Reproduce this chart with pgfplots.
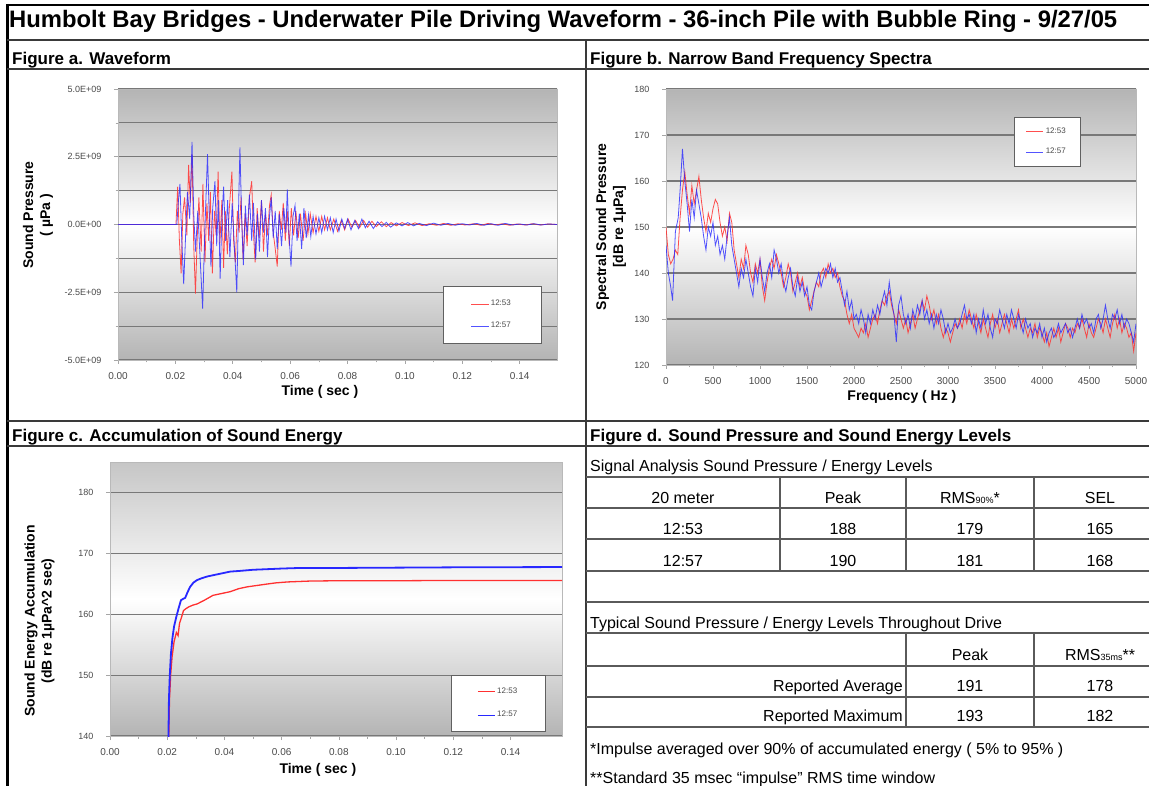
\documentclass[border=0pt]{standalone}
\usepackage{pgfplots}
\pgfplotsset{compat=1.18}
\usepackage{pgfplotstable}
\usepackage{graphicx}
\usepackage{fontspec}
\setmainfont{Liberation Sans}
\definecolor{gridc}{HTML}{787878}
\definecolor{redl}{HTML}{FF3030}
\definecolor{bluel}{HTML}{2828FF}
\definecolor{bgg}{HTML}{B4B4B4}
\definecolor{tickc}{HTML}{4A4A4A}
\definecolor{framec}{HTML}{3A3A3A}
\definecolor{tabc}{HTML}{5A5A5A}

\pgfplotstableread{
t p
0 0
0.0200 0
0.0205 0
0.0210 0.8
0.0216 1.5
0.0222 -0.5
0.0229 -2.2
0.0236 -0.3
0.0242 1.2
0.0250 0.2
0.0258 3.05
0.0264 0.4
0.0270 -1.0
0.0278 0.5
0.0286 -1.2
0.0295 -3.1
0.0302 -0.4
0.0312 2.6
0.0318 0.3
0.0324 -1.55
0.0330 0.6
0.0338 1.6
0.0344 -0.8
0.0350 0.9
0.0356 -2.0
0.0362 0.2
0.0368 1.4
0.0375 -0.6
0.0382 0.9
0.0390 -1.2
0.0398 0.8
0.0406 -0.9
0.0414 -2.5
0.0420 0.5
0.0425 2.85
0.0431 0.2
0.0437 -1.5
0.0444 0.7
0.0450 -0.4
0.0458 1.1
0.0466 -0.6
0.0472 0.8
0.0480 -1.3
0.0486 0.4
0.0493 -1.0
0.0500 0.9
0.0507 -0.3
0.0514 0.6
0.0521 -1.2
0.0528 0.3
0.0534 1.0
0.0541 -0.5
0.0548 0.5
0.0555 -0.9
0.0562 0.4
0.0570 -0.8
0.0578 0.6
0.0585 -0.3
0.0590 1.3
0.0596 -0.4
0.0603 -1.55
0.0610 0.3
0.0617 0.7
0.0624 -0.6
0.0632 0.4
0.0640 -0.9
0.0648 0.6
0.0656 -0.5
0.0664 0.35
0.0672 -0.45
0.0680 0.3
0.0690 -0.35
0.0700 0.25
0.0710 -0.3
0.0720 0.3
0.0730 -0.2
0.0740 0.25
0.0750 -0.3
0.0760 0.2
0.0770 -0.25
0.0780 0.2
0.0790 -0.15
0.0800 0.2
0.0812 -0.2
0.0825 0.15
0.0838 -0.15
0.0850 0.2
0.0862 -0.12
0.0875 0.12
0.0890 -0.15
0.0905 0.1
0.0920 -0.08
0.0935 0.08
0.0950 -0.1
0.0970 0.06
0.0990 -0.05
0.1010 0.07
0.1030 -0.05
0.1050 0.04
0.1075 -0.04
0.1100 0.05
0.1125 -0.03
0.1150 0.04
0.1175 -0.03
0.1200 0.03
0.1225 -0.02
0.1250 0.04
0.1275 -0.03
0.1300 0.03
0.1325 -0.03
0.1350 0.04
0.1375 -0.02
0.1400 0.02
0.1425 -0.02
0.1450 0.03
0.1475 -0.02
0.1500 0.02
0.1530 0
}\waveB

\pgfplotstableread{
t p
0 0
0.0202 0
0.0208 1.4
0.0214 -0.6
0.0220 -1.8
0.0226 0.4
0.0232 1.0
0.0240 -0.4
0.0246 2.2
0.0252 0.8
0.0258 2.6
0.0264 -0.8
0.0270 -2.55
0.0276 -0.5
0.0282 1.0
0.0290 -1.0
0.0296 1.5
0.0303 -1.4
0.0310 0.8
0.0316 -0.6
0.0322 1.2
0.0329 -1.8
0.0336 0.5
0.0342 -0.4
0.0349 1.95
0.0355 -0.7
0.0362 0.9
0.0368 -1.6
0.0374 0.5
0.0381 -1.1
0.0388 0.6
0.0397 1.95
0.0403 -0.6
0.0409 -1.4
0.0416 0.5
0.0422 -0.3
0.0429 1.0
0.0436 -1.3
0.0443 0.4
0.0450 -0.8
0.0458 1.0
0.0466 1.6
0.0472 -0.3
0.0478 -1.4
0.0485 0.6
0.0492 -0.5
0.0500 0.9
0.0507 -1.0
0.0514 0.4
0.0521 -0.4
0.0528 0.7
0.0534 1.1
0.0541 -0.3
0.0548 -0.9
0.0555 -1.55
0.0562 0.5
0.0569 -0.2
0.0576 0.8
0.0583 -0.6
0.0590 0.5
0.0597 -0.8
0.0604 0.6
0.0612 -0.4
0.0620 0.5
0.0628 -0.5
0.0636 0.4
0.0645 -0.6
0.0654 0.4
0.0662 -0.35
0.0670 0.4
0.0680 -0.3
0.0690 0.3
0.0700 -0.25
0.0710 0.3
0.0720 -0.2
0.0730 0.25
0.0740 -0.2
0.0752 0.2
0.0765 -0.25
0.0778 0.15
0.0790 -0.2
0.0802 0.2
0.0815 -0.1
0.0828 0.15
0.0842 -0.12
0.0856 0.15
0.0870 -0.1
0.0885 0.12
0.0900 -0.08
0.0918 0.1
0.0935 -0.08
0.0952 0.07
0.0970 -0.05
0.0990 0.07
0.1012 -0.04
0.1035 0.06
0.1060 -0.04
0.1085 0.03
0.1110 -0.03
0.1135 0.04
0.1160 -0.03
0.1185 0.03
0.1210 -0.02
0.1240 0.03
0.1265 -0.03
0.1290 0.04
0.1315 -0.02
0.1340 0.03
0.1365 -0.03
0.1390 0.02
0.1420 -0.02
0.1445 0.03
0.1470 -0.02
0.1500 0.02
0.1530 0
}\waveA

\pgfplotstableread{
f v
0 146
25 140
50 137
70 134
100 149
130 152
150 158
175 167
200 160
225 155
250 149
275 156
300 152
325 158
350 155
375 152
400 148
425 145
450 150
475 148
500 151
525 146
550 148
575 144
600 146
625 143
650 148
675 152
700 146
725 143
750 140
775 137
800 141
825 139
850 143
875 140
900 137
925 135
950 141
975 138
1000 143
1025 139
1050 136
1075 140
1100 142
1125 139
1150 145
1175 143
1200 140
1225 142
1250 138
1275 136
1300 139
1325 141
1350 137
1375 135
1400 139
1425 136
1450 138
1475 135
1500 137
1525 133
1550 132
1575 136
1600 138
1625 140
1650 137
1675 139
1700 141
1725 140
1750 142
1775 139
1800 141
1825 138
1850 139
1875 136
1900 133
1925 136
1950 132
1975 134
2000 130
2025 131
2050 129
2075 132
2100 130
2125 127
2150 131
2175 129
2200 132
2225 130
2250 133
2275 131
2300 134
2325 136
2350 133
2375 138
2400 134
2425 131
2450 125
2475 133
2500 135
2525 131
2550 129
2575 131
2600 128
2625 132
2650 130
2675 133
2700 131
2725 134
2750 130
2775 132
2800 129
2825 131
2850 128
2875 131
2900 129
2925 132
2950 130
2975 127
3000 129
3025 127
3050 128
3075 130
3100 128
3125 129
3150 131
3175 133
3200 130
3225 131
3250 129
3275 131
3300 127
3325 130
3350 128
3375 132
3400 129
3425 131
3450 128
3475 126
3500 130
3525 129
3550 132
3575 130
3600 128
3625 131
3650 129
3675 132
3700 130
3725 128
3750 131
3775 129
3800 127
3825 130
3850 128
3875 129
3900 126
3925 128
3950 127
3975 129
4000 126
4025 128
4050 125
4075 127
4100 128
4125 126
4150 127
4175 129
4200 127
4225 128
4250 129
4275 127
4300 128
4325 126
4350 128
4375 130
4400 128
4425 131
4450 129
4475 130
4500 128
4525 129
4550 127
4575 130
4600 131
4625 128
4650 130
4675 133
4700 130
4725 128
4750 131
4775 130
4800 132
4825 129
4850 131
4875 128
4900 130
4925 129
4950 127
4975 125
5000 129
}\specB

\pgfplotstableread{
f v
0 150
25 144
50 142
75 143
100 145
125 144
150 152
175 158
200 162
225 157
250 153
275 159
300 155
325 158
350 161
375 156
400 152
425 149
450 153
475 151
500 154
525 156
550 155
575 151
600 148
625 150
650 147
675 153
700 151
725 145
750 142
775 139
800 143
825 141
850 146
875 144
900 140
925 138
950 142
975 140
1000 143
1025 137
1050 134
1075 138
1100 141
1125 143
1150 141
1175 144
1200 142
1225 140
1250 137
1275 139
1300 142
1325 140
1350 136
1375 138
1400 140
1425 137
1450 139
1475 136
1500 135
1525 132
1550 134
1575 136
1600 138
1625 137
1650 140
1675 141
1700 139
1725 142
1750 140
1775 141
1800 139
1825 140
1850 137
1875 135
1900 134
1925 131
1950 129
1975 131
2000 128
2025 127
2050 126
2075 128
2100 127
2125 129
2150 126
2175 128
2200 130
2225 131
2250 129
2275 132
2300 134
2325 133
2350 135
2375 136
2400 133
2425 131
2450 129
2475 132
2500 130
2525 128
2550 130
2575 127
2600 129
2625 131
2650 128
2675 130
2700 132
2725 134
2750 132
2775 135
2800 133
2825 130
2850 132
2875 129
2900 131
2925 128
2950 126
2975 128
3000 127
3025 125
3050 127
3075 129
3100 128
3125 130
3150 128
3175 131
3200 129
3225 132
3250 130
3275 128
3300 131
3325 129
3350 127
3375 130
3400 128
3425 126
3450 129
3475 131
3500 128
3525 130
3550 127
3575 129
3600 131
3625 129
3650 127
3675 130
3700 128
3725 130
3750 132
3775 128
3800 130
3825 128
3850 126
3875 128
3900 127
3925 129
3950 126
3975 128
4000 127
4025 125
4050 127
4075 124
4100 126
4125 128
4150 126
4175 128
4200 125
4225 127
4250 129
4275 128
4300 126
4325 128
4350 127
4375 129
4400 128
4425 130
4450 128
4475 126
4500 129
4525 127
4550 126
4575 128
4600 130
4625 129
4650 127
4675 130
4700 128
4725 126
4750 129
4775 131
4800 128
4825 130
4850 127
4875 129
4900 128
4925 126
4950 127
4975 123
5000 127
}\specA

\pgfplotstableread{
t v
0.0204 139
0.0206 146
0.0209 150
0.0213 153.5
0.0218 156
0.0224 158
0.0232 159.6
0.0240 161
0.0248 162.3
0.0255 162.5
0.0263 162.7
0.0270 163.5
0.0280 164.5
0.0292 165.2
0.0304 165.6
0.0320 165.9
0.0340 166.2
0.0360 166.4
0.0380 166.6
0.0400 166.8
0.0420 167.0
0.0450 167.1
0.0500 167.3
0.0550 167.4
0.0600 167.5
0.0665 167.6
0.0800 167.6
0.1000 167.65
0.1200 167.7
0.1590 167.75
}\accB

\pgfplotstableread{
t v
0.0205 139
0.0208 146
0.0212 150
0.0217 153
0.0224 155.5
0.0232 157
0.0238 156.5
0.0243 158.5
0.0250 159.5
0.0257 160.6
0.0265 160.9
0.0275 161.2
0.0290 161.5
0.0305 161.7
0.0330 162.3
0.0360 163.1
0.0390 163.4
0.0420 163.7
0.0450 164.2
0.0480 164.5
0.0510 164.7
0.0540 164.9
0.0580 165.15
0.0620 165.3
0.0700 165.45
0.0800 165.5
0.1000 165.5
0.1200 165.55
0.1590 165.55
}\accA

\pgfplotsset{
  excel/.style={
    scale only axis,
    anchor=north west,
    axis background/.style={top color=bgg, bottom color=bgg, middle color=white},
    axis line style={draw=gray!55, line width=0.6pt},
    ymajorgrids,
    major grid style={draw=gridc, line width=1.2pt},
    minor grid style={draw=gridc, line width=1.2pt},
    tick align=outside,
    major tick length=4pt, minor tick length=2.5pt,
    tick style={draw=gray!70, line width=0.6pt},
    tick pos=left,
    /pgf/number format/assume math mode=true,
    xticklabel style={text=tickc, font=\fontsize{10}{10}\selectfont, yshift=-5pt},
    yticklabel style={text=tickc, font=\fontsize{9}{9}\selectfont, xshift=-9pt},
    label style={font=\fontsize{14}{17}\selectfont\bfseries, text=black, align=center},
    xlabel style={anchor=center},
    ylabel style={anchor=center},
    legend style={draw=gray!75!black, fill=white, line width=0.6pt,
      font=\fontsize{8}{9}\selectfont, text=tickc, anchor=north west,
      inner xsep=12pt, inner ysep=8pt, row sep=9pt},
    legend cell align=left,
    legend image post style={line width=0.6pt},
  }
}

\newcommand\hdr{\fontsize{17}{20}\selectfont\bfseries}
\newcommand\tb{\fontsize{16}{19}\selectfont}

\begin{document}
\begin{tikzpicture}
\path[use as bounding box] (0pt,0pt) rectangle (1149pt,-786pt);
\fill[white] (0pt,0pt) rectangle (1149pt,-786pt);

% ---------- Figure a ----------
\begin{axis}[excel, at={(118pt,-89pt)}, width=439pt, height=271pt,
  xmin=0, xmax=0.153, ymin=-5, ymax=5,
  ytick={-5,-2.5,0,2.5,5},
  yticklabels={-5.0E+09,-2.5E+09,0.0E+00,2.5E+09,5.0E+09},
  minor ytick={-3.75,-1.25,1.25,3.75}, yminorgrids,
  xtick={0,0.02,0.04,0.06,0.08,0.10,0.12,0.14}, minor x tick num=1,
  xticklabel style={/pgf/number format/fixed, /pgf/number format/fixed zerofill, /pgf/number format/precision=2},
  xlabel={Time ( sec )},
  xlabel style={at={(axis description cs:0.46,-0.118)}},
  ylabel={Sound Pressure\\( µPa )},
  ylabel style={at={(axis description cs:-0.182,0.535)}},
  legend style={at={(0.74,0.273)}, inner xsep=28pt, inner ysep=12pt, row sep=11pt},
]
\addplot[redl, line width=0.8pt, opacity=0.85] table[x=t,y=p] {\waveA};
\addplot[bluel, line width=0.8pt, opacity=0.8] table[x=t,y=p] {\waveB};
\legend{12:53,12:57}
\end{axis}

% ---------- Figure b ----------
\begin{axis}[excel, at={(666pt,-89pt)}, width=470pt, height=276pt,
  xmin=0, xmax=5000, ymin=120, ymax=180,
  ytick={120,130,140,150,160,170,180},
  xtick={0,500,1000,1500,2000,2500,3000,3500,4000,4500,5000}, minor x tick num=1,
  xticklabel style={/pgf/number format/set thousands separator={}},
  xlabel={Frequency ( Hz )},
  xlabel style={at={(axis description cs:0.502,-0.116)}},
  ylabel={Spectral Sound Pressure\\ {[}dB re 1µPa]},
  ylabel style={at={(axis description cs:-0.117,0.5)}},
  legend style={at={(0.74,0.899)}, inner xsep=12pt, inner ysep=9pt, row sep=9pt},
]
\addplot[redl, line width=0.8pt, opacity=0.85] table[x=f,y=v] {\specA};
\addplot[bluel, line width=0.8pt, opacity=0.8] table[x=f,y=v] {\specB};
\legend{12:53,12:57}
\end{axis}

% ---------- Figure c ----------
\begin{axis}[excel, at={(110pt,-462pt)}, width=452pt, height=274pt,
  xmin=0, xmax=0.158, ymin=140, ymax=185,
  ytick={140,150,160,170,180},
  xtick={0,0.02,0.04,0.06,0.08,0.10,0.12,0.14}, minor x tick num=1,
  xticklabel style={/pgf/number format/fixed, /pgf/number format/fixed zerofill, /pgf/number format/precision=2},
  axis background/.style={top color=bgg!110!black, bottom color=bgg, middle color=white},
  xlabel={Time ( sec )},
  xlabel style={at={(axis description cs:0.46,-0.124)}},
  ylabel={Sound Energy Accumulation\\(dB re 1µPa\textasciicircum 2 sec)},
  ylabel style={at={(axis description cs:-0.156,0.42)}},
  legend style={at={(0.755,0.223)}, inner xsep=26pt, inner ysep=11pt, row sep=12pt},
]
\addplot[redl, line width=1.3pt] table[x=t,y=v] {\accA};
\addplot[bluel, line width=1.8pt] table[x=t,y=v] {\accB};
\legend{12:53,12:57}
\end{axis}

% ---------- frame, titles, table ----------
\begin{scope}[x=1pt,y=-1pt]
\draw[black, line width=2.5pt] (7,5) -- (1160,5);
\draw[black, line width=3pt] (7,4) -- (7,790);
\draw[framec, line width=2.5pt] (7,40) -- (1160,40);
\draw[framec, line width=2pt] (7,69.5) -- (1160,69.5);
\draw[framec, line width=1.5pt] (586,40) -- (586,790);
\draw[framec, line width=1.5pt] (7,421) -- (1160,421);
\draw[framec, line width=1.5pt] (7,446) -- (1160,446);

\node[anchor=base west, inner sep=0pt] at (9,28) {\resizebox{1108pt}{!}{\fontsize{20}{24}\selectfont\bfseries Humbolt Bay Bridges - Underwater Pile Driving Waveform - 36-inch Pile with Bubble Ring - 9/27/05}};
\node[anchor=base west, inner sep=0pt] at (12,65) {\hdr Figure a. Waveform};
\node[anchor=base west, inner sep=0pt] at (590,65) {\hdr Figure b. Narrow Band Frequency Spectra};
\node[anchor=base west, inner sep=0pt] at (12,441) {\hdr Figure c. Accumulation of Sound Energy};
\node[anchor=base west, inner sep=0pt] at (590,441) {\hdr Figure d. Sound Pressure and Sound Energy Levels};

% table lines
\foreach \yy in {477,508,539,571,602,633,666,697,727}
  \draw[tabc, line width=1.3pt] (586,\yy) -- (1160,\yy);
\foreach \xx in {780,906,1034}
  \draw[tabc, line width=1.3pt] (\xx,477) -- (\xx,571);
\foreach \xx in {906,1034}
  \draw[tabc, line width=1.3pt] (\xx,633) -- (\xx,727);

\node[anchor=base west, inner sep=0pt] at (590,471) {\tb Signal Analysis Sound Pressure / Energy Levels};
\node[anchor=base, inner sep=0pt] at (683,503) {\tb 20 meter};
\node[anchor=base, inner sep=0pt] at (843,503) {\tb Peak};
\node[anchor=base, inner sep=0pt] at (970,503) {\tb RMS{\fontsize{9}{9}\selectfont 90\%}*};
\node[anchor=base, inner sep=0pt] at (1100,503) {\tb SEL};
\node[anchor=base, inner sep=0pt] at (683,534) {\tb 12:53};
\node[anchor=base, inner sep=0pt] at (843,534) {\tb 188};
\node[anchor=base, inner sep=0pt] at (970,534) {\tb 179};
\node[anchor=base, inner sep=0pt] at (1100,534) {\tb 165};
\node[anchor=base, inner sep=0pt] at (683,566) {\tb 12:57};
\node[anchor=base, inner sep=0pt] at (843,566) {\tb 190};
\node[anchor=base, inner sep=0pt] at (970,566) {\tb 181};
\node[anchor=base, inner sep=0pt] at (1100,566) {\tb 168};

\node[anchor=base west, inner sep=0pt] at (590,628) {\tb Typical Sound Pressure / Energy Levels Throughout Drive};
\node[anchor=base, inner sep=0pt] at (970,660) {\tb Peak};
\node[anchor=base, inner sep=0pt] at (1100,660) {\tb RMS{\fontsize{9}{9}\selectfont 35ms}**};
\node[anchor=base east, inner sep=0pt] at (903,691) {\tb Reported Average};
\node[anchor=base, inner sep=0pt] at (970,691) {\tb 191};
\node[anchor=base, inner sep=0pt] at (1100,691) {\tb 178};
\node[anchor=base east, inner sep=0pt] at (903,721) {\tb Reported Maximum};
\node[anchor=base, inner sep=0pt] at (970,721) {\tb 193};
\node[anchor=base, inner sep=0pt] at (1100,721) {\tb 182};

\node[anchor=base west, inner sep=0pt] at (590,754) {\tb *Impulse averaged over 90\% of accumulated energy ( 5\% to 95\% )};
\node[anchor=base west, inner sep=0pt] at (590,783) {\tb **Standard 35 msec “impulse” RMS time window};
\end{scope}
\end{tikzpicture}
\end{document}
